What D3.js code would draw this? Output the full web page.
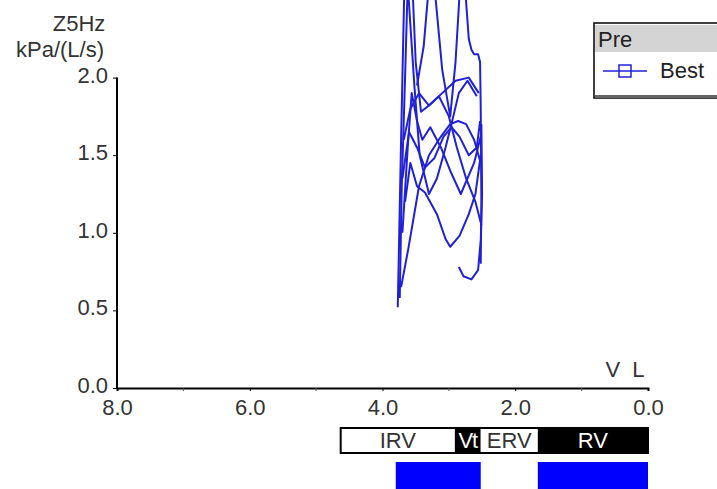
<!DOCTYPE html>
<html>
<head>
<meta charset="utf-8">
<script src="https://cdn.jsdelivr.net/npm/d3@7"></script>
<style>
  body { margin: 0; background: #fff; }
  svg { font-family: "Liberation Sans", Arial, sans-serif; }
</style>
</head>
<body>
<div id="chart"></div>
<script>
// x ticks (volume, L) and y ticks (Z5Hz)
var xTicks = [8, 6, 4, 2, 0];
var xMinor = [7, 5, 3, 1];
var yTicks = [0, 0.5, 1.0, 1.5, 2.0];

// breathing traces, [volume L, Z kPa/(L/s)]
var trace1 = [[3.77,0.52],[3.75,0.95],[3.72,1.6],[3.69,2.2],[3.67,2.6]];
var trace2 = [[3.74,0.58],[3.71,1.3],[3.66,2.0],[3.62,2.6],[3.55,2.6],[3.50,2.1],[3.42,1.78],[3.30,1.82],[3.10,1.9],[2.90,1.98],[2.70,2.0],[2.55,1.9]];
var trace3 = [[3.70,1.00],[3.62,1.55],[3.56,1.9],[3.48,1.72],[3.40,1.6],[3.28,1.68],[3.12,1.55],[2.98,1.4],[2.82,1.25],[2.62,1.45],[2.52,1.62]];
var trace4 = [[3.66,1.20],[3.58,1.45],[3.48,1.30],[3.36,1.26],[3.18,1.12],[3.05,0.96],[2.98,0.91],[2.84,0.98],[2.70,1.12],[2.60,1.25],[2.52,1.5]];
var trace5 = [[3.72,0.65],[3.61,0.9],[3.45,1.3],[3.30,1.5],[3.12,1.62],[2.98,1.7],[2.86,1.72],[2.74,1.7],[2.62,1.6],[2.52,1.45]];
var trace6 = [[3.68,1.6],[3.58,1.8],[3.45,1.9],[3.30,1.82],[3.15,1.88],[3.00,1.75],[2.88,1.55],[2.74,1.35],[2.60,1.2],[2.51,1.05]];
var trace7 = [[3.62,2.6],[3.52,1.95],[3.44,1.5],[3.30,1.25],[3.18,1.35],[3.05,1.55],[2.95,1.72],[2.85,1.9],[2.72,1.98],[2.58,1.88]];
var trace8 = [[2.85,0.78],[2.78,0.72],[2.66,0.70],[2.56,0.76],[2.52,0.95],[2.50,1.25],[2.51,1.7]];
var trace9 = [[3.48,1.95],[3.38,2.2],[3.30,2.6],[3.22,2.6],[3.10,2.05],[2.98,1.75],[2.90,2.1],[2.83,2.6],[2.76,2.6],[2.70,2.25],[2.66,2.18],[2.62,2.15],[2.56,2.15],[2.53,2.1],[2.52,1.8],[2.51,1.2],[2.52,0.8]];
var trace10 = [[3.70,1.35],[3.60,1.65],[3.48,1.55],[3.36,1.42],[3.22,1.48],[3.08,1.62],[2.96,1.68],[2.84,1.62],[2.70,1.5],[2.58,1.55],[2.53,1.72]];
var traces = [trace1, trace2, trace3, trace4, trace5, trace6, trace7, trace8, trace9, trace10];

// lung volume compartments under the x axis
var segNames = ["IRV", "Vt", "ERV", "RV"];
var segStart = [4.63, 2.91, 2.52, 1.66];
var segEnd   = [2.91, 2.52, 1.66, 0.0];
var segDark  = [false, true, false, true];

// blue bars below
var barStart = [3.80, 1.66];
var barEnd   = [2.52, 0.0];

var W = 717, H = 489, FS = 22;
var svg = d3.select("#chart").append("svg").attr("width", W).attr("height", H);

var x = d3.scaleLinear().domain([8, 0]).range([117, 648]);
var y = d3.scaleLinear().domain([0, 2.5]).range([388, 0]);

svg.append("clipPath").attr("id", "clip")
  .append("rect").attr("x", x(8)).attr("y", 0).attr("width", x(0) - x(8)).attr("height", y(0));

// y axis
var yAxis = d3.axisLeft(y).tickValues(yTicks).tickFormat(d3.format(".1f")).tickSize(4).tickPadding(5);
var gy = svg.append("g").attr("transform", "translate(" + x(8) + ",0)").call(yAxis);
gy.select(".domain").remove();
gy.append("line").attr("x1", 0).attr("x2", 0).attr("y1", y(2.0)).attr("y2", y(0))
  .attr("stroke", "#000").attr("stroke-width", 2);
gy.selectAll(".tick text").attr("font-size", FS).attr("fill", "#333").attr("dy", "0.2em");

// x axis
var xAxis = d3.axisBottom(x).tickValues(xTicks).tickFormat(d3.format(".1f")).tickSize(3).tickPadding(8);
var gx = svg.append("g").attr("transform", "translate(0," + y(0) + ")").call(xAxis);
gx.select(".domain").attr("stroke-width", 2);
gx.selectAll(".tick text").attr("font-size", FS).attr("fill", "#333");
gx.selectAll(".minor").data(xMinor).enter().append("line")
  .attr("x1", function(d) { return x(d); }).attr("x2", function(d) { return x(d); })
  .attr("y1", 0).attr("y2", 3).attr("stroke", "#555");

// axis titles
svg.append("text").attr("x", 79).attr("y", 31).attr("text-anchor", "middle")
  .attr("font-size", FS).attr("fill", "#333").text("Z5Hz");
svg.append("text").attr("x", 60).attr("y", 57).attr("text-anchor", "middle")
  .attr("font-size", FS).attr("fill", "#333").text("kPa/(L/s)");
svg.append("text").attr("x", 625).attr("y", 377).attr("text-anchor", "middle")
  .attr("font-size", FS).attr("fill", "#333").attr("xml:space", "preserve").text("V  L");

// traces
var line = d3.line().x(function(d) { return x(d[0]); }).y(function(d) { return y(d[1]); });
svg.append("g").attr("clip-path", "url(#clip)")
  .selectAll("path").data(traces).enter().append("path")
  .attr("d", line).attr("fill", "none").attr("stroke", "#2020d8").attr("stroke-width", 2)
  .attr("stroke-linejoin", "round");

// compartment strip
var segTop = 428, segH = 25;
var seg = svg.append("g");
segNames.forEach(function(name, i) {
  seg.append("rect").attr("x", x(segStart[i])).attr("y", segTop)
    .attr("width", x(segEnd[i]) - x(segStart[i])).attr("height", segH)
    .attr("fill", segDark[i] ? "#000" : "#fff");
  seg.append("text").attr("x", (x(segStart[i]) + x(segEnd[i])) / 2).attr("y", segTop + 20)
    .attr("text-anchor", "middle").attr("font-size", FS)
    .attr("letter-spacing", name == "Vt" ? -1 : 0)
    .attr("fill", segDark[i] ? "#fff" : "#333").text(name);
});
seg.append("rect").attr("x", x(segStart[0])).attr("y", segTop)
  .attr("width", x(0) - x(segStart[0])).attr("height", segH)
  .attr("fill", "none").attr("stroke", "#000").attr("stroke-width", 2);

// blue bars
svg.selectAll(".bluebar").data(barStart).enter().append("rect")
  .attr("x", function(d) { return x(d); }).attr("y", 462)
  .attr("width", function(d, i) { return x(barEnd[i]) - x(d); }).attr("height", 27)
  .attr("fill", "#0000ff");

// legend
var lg = svg.append("g");
lg.append("rect").attr("x", 594).attr("y", 23).attr("width", 130).attr("height", 75)
  .attr("fill", "#fff").attr("stroke", "#000").attr("stroke-width", 1.5);
lg.append("rect").attr("x", 595).attr("y", 25).attr("width", 128).attr("height", 27).attr("fill", "#d4d4d4");
lg.append("rect").attr("x", 595).attr("y", 95).attr("width", 128).attr("height", 3).attr("fill", "#666");
lg.append("text").attr("x", 598).attr("y", 47).attr("font-size", FS).attr("fill", "#222").text("Pre");
lg.append("line").attr("x1", 603).attr("x2", 647).attr("y1", 71).attr("y2", 71)
  .attr("stroke", "#2020d8").attr("stroke-width", 1.5);
lg.append("rect").attr("x", 619).attr("y", 65).attr("width", 12).attr("height", 12)
  .attr("fill", "#fff").attr("stroke", "#2020d8").attr("stroke-width", 1.5);
lg.append("line").attr("x1", 619).attr("x2", 631).attr("y1", 71).attr("y2", 71)
  .attr("stroke", "#2020d8").attr("stroke-width", 1.5);
lg.append("text").attr("x", 660).attr("y", 78).attr("font-size", FS).attr("fill", "#222").text("Best");
</script>
</body>
</html>
